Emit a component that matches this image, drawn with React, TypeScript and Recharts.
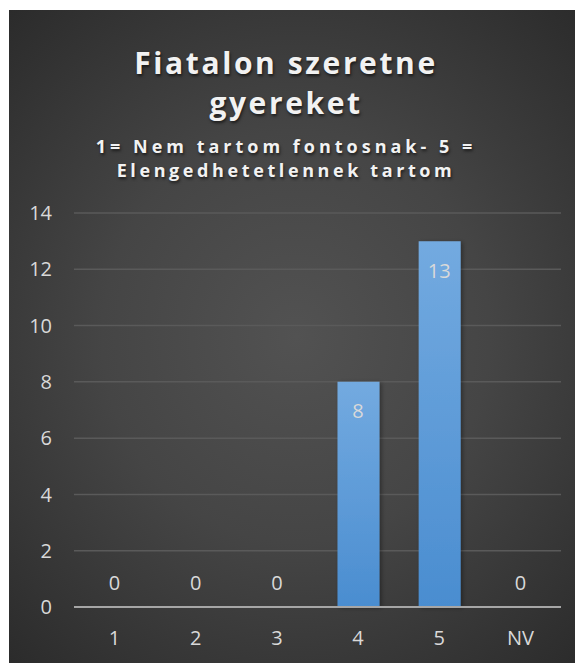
import { ComposedChart, Bar, Line, XAxis, YAxis, CartesianGrid, LabelList } from "recharts";

const categories = ["1", "2", "3", "4", "5", "NV"];
const counts = [0, 0, 0, 8, 13, 0];
const yTicks = [0, 2, 4, 6, 8, 10, 12, 14];
const titleLines = ["Fiatalon szeretne", "gyereket"];
const subtitleLines = ["1= Nem tartom fontosnak- 5 =", "Elengedhetetlennek tartom"];
const subtitleSpacing = [4.0, 3.6];

const chartData = categories.map((name, i) => ({ name, value: counts[i] }));

const FONT = "'Open Sans', 'Noto Sans', sans-serif";

// zero values sit above the axis, others inside the top of the bar
const renderLabel = (props: any) => {
  const { x, y, value } = props;
  const v = Number(value);
  const ty = v === 0 ? y - 25 : y + 29;
  return (
    <text
      x={x}
      y={ty}
      textAnchor="middle"
      dominantBaseline="central"
      fill="#d9d9d9"
      fontSize={20}
      fontFamily={FONT}
    >
      {v}
    </text>
  );
};

export default function App() {
  const W = 574;
  const H = 653;
  return (
    <div
      style={{
        position: "relative",
        width: W,
        height: H,
        marginLeft: 1,
        marginTop: 2,
        background:
          "radial-gradient(ellipse 75% 70% at 50% 50%, #525252 0%, #454545 45%, #2a2a2a 100%)",
        overflow: "hidden",
      }}
    >
      <div
        style={{
          position: "absolute",
          top: 33,
          left: 0,
          width: W - 20,
          textAlign: "center",
          fontFamily: FONT,
          color: "#f2f2f2",
          fontWeight: 700,
          textShadow: "1px 2px 3px rgba(0,0,0,0.6)",
          zIndex: 2,
        }}
      >
        {titleLines.map((t) => (
          <div key={t} style={{ fontSize: 30, lineHeight: "40px", letterSpacing: 2.6 }}>
            {t}
          </div>
        ))}
        <div style={{ marginTop: 11 }}>
          {subtitleLines.map((t, i) => (
            <div
              key={t}
              style={{ fontSize: 18, lineHeight: "24px", letterSpacing: subtitleSpacing[i] }}
            >
              {t}
            </div>
          ))}
        </div>
      </div>
      <div style={{ position: "absolute", top: 0, left: 0 }}>
        <ComposedChart
          width={W}
          height={H}
          data={chartData}
          margin={{ top: 203, right: 22, bottom: 0, left: 0 }}
        >
          <defs>
            <linearGradient id="barFill" x1="0" y1="0" x2="0" y2="1">
              <stop offset="0%" stopColor="#73aae0" />
              <stop offset="100%" stopColor="#4a8dd0" />
            </linearGradient>
            <filter id="barShadow" x="-30%" y="-10%" width="160%" height="120%">
              <feDropShadow dx="2" dy="1" stdDeviation="2" floodColor="#000" floodOpacity="0.35" />
            </filter>
          </defs>
          <CartesianGrid vertical={false} stroke="#5a5a5a" strokeWidth={1.5} />
          <XAxis
            dataKey="name"
            height={56}
            tickLine={false}
            tickSize={0}
            tickMargin={24}
            axisLine={{ stroke: "#a6a6a6", strokeWidth: 2 }}
            tick={{ fill: "#d9d9d9", fontSize: 20, fontFamily: FONT }}
            interval={0}
          />
          <YAxis
            width={65}
            domain={[0, 14]}
            ticks={yTicks}
            axisLine={false}
            tickLine={false}
            tickSize={0}
            tickMargin={22}
            tick={{ fill: "#d9d9d9", fontSize: 20, fontFamily: FONT }}
          />
          <Bar
            dataKey="value"
            fill="url(#barFill)"
            barSize={42}
            filter="url(#barShadow)"
            isAnimationActive={false}
          />
          <Line
            dataKey="value"
            stroke="none"
            dot={false}
            activeDot={false}
            legendType="none"
            isAnimationActive={false}
          >
            <LabelList dataKey="value" content={renderLabel} />
          </Line>
        </ComposedChart>
      </div>
    </div>
  );
}
